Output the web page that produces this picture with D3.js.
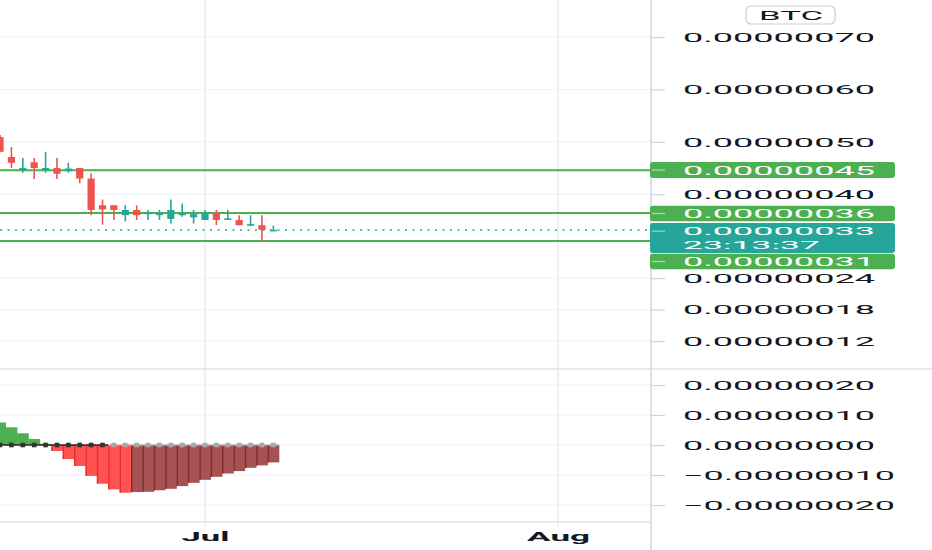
<!DOCTYPE html>
<html><head><meta charset="utf-8">
<script src="https://cdn.jsdelivr.net/npm/d3@7"></script>
<style>html,body{margin:0;padding:0;background:#fff;overflow:hidden}</style>
</head><body>
<svg id="c" width="932" height="550"></svg>
<script>
// ---- data (prices in units of 1e-8 BTC) ----
const dates = ["2023-06-13","2023-06-14","2023-06-15","2023-06-16","2023-06-17","2023-06-18","2023-06-19",
  "2023-06-20","2023-06-21","2023-06-22","2023-06-23","2023-06-24","2023-06-25","2023-06-26","2023-06-27",
  "2023-06-28","2023-06-29","2023-06-30","2023-07-01","2023-07-02","2023-07-03","2023-07-04","2023-07-05",
  "2023-07-06","2023-07-07"];
const open  = [50.9,47.1,44.6,46.1,44.6,45.0,44.4,45.0,43.0,37.9,37.9,36.0,37.0,36.2,36.0,35.3,36.0,35.6,35.1,36.4,35.1,35.1,34.0,34.1,32.95];
const high  = [51.3,49.0,46.9,46.9,48.1,46.9,46.0,45.0,44.0,39.0,37.9,37.9,37.9,37.0,37.0,39.0,38.2,37.0,37.0,37.0,37.0,36.0,36.0,36.0,34.0];
const low   = [48.0,45.0,44.1,42.9,44.1,42.9,44.1,42.1,36.0,34.2,35.1,34.8,35.1,35.1,35.1,34.4,35.7,34.4,35.1,34.1,35.1,34.1,33.9,30.9,32.95];
const close = [48.1,46.0,45.0,45.0,45.0,43.9,44.9,43.0,37.0,37.1,37.0,37.0,36.0,36.5,36.3,37.0,36.4,36.2,36.4,35.1,35.4,34.1,34.3,33.2,33.2];
const momentum = [7.5,5.9,3.9,2.0,0.4,-2.0,-4.7,-7.0,-10.3,-12.9,-14.8,-15.9,-15.7,-15.6,-15.1,-14.6,-13.7,-12.6,-11.6,-10.6,-9.5,-8.7,-7.6,-6.8,-5.8];
const squeezeOn = [1,1,1,1,1,1,1,1,1,1,0,0,0,0,0,0,0,0,0,0,0,0,0,0,0];
const levels = [44.6, 36.4, 31.1];
const priceTicks = [70,60,50,40,24,18,12];
const momTicks = [20,10,0,-10,-20];
const timeTicks = ["2023-07-01","2023-08-01"];
const countdown = "23:13:37";
const currency = "BTC";
const UNIT = 1e-8;

// ---- layout ----
const W = 932, H = 550, AX = 651, PANE_SEP = 369, TIME_Y = 522;
const svg = d3.select("#c");
const font = "Roboto, 'Liberation Sans', Arial, sans-serif";
const fmt = v => { const s = (v*UNIT).toFixed(8); return s.replace("-", "\u2212"); };
const parse = d3.utcParse("%Y-%m-%d");
const days = dates.map(parse);

const x = d3.scaleUtc().domain([parse("2023-07-01"), parse("2023-08-01")]).range([205, 558]);
const yP = d3.scaleLinear().domain([12,70]).range([341,37]);
const yM = d3.scaleLinear().domain([-20,20]).range([505,385]);
const step = x(parse("2023-07-02")) - x(parse("2023-07-01"));

const defs = svg.append("defs");
defs.append("clipPath").attr("id","clipMain").append("rect").attr("x",0).attr("y",0).attr("width",AX).attr("height",PANE_SEP);
defs.append("clipPath").attr("id","clipMom").append("rect").attr("x",0).attr("y",PANE_SEP).attr("width",AX).attr("height",TIME_Y-PANE_SEP);

const gridC = "#eef1f6";
// horizontal grid
svg.append("g").selectAll("line").data(priceTicks).join("line")
  .attr("x1",0).attr("x2",AX).attr("y1",d=>yP(d)).attr("y2",d=>yP(d)).attr("stroke",gridC).attr("stroke-width",1);
svg.append("g").selectAll("line").data(momTicks).join("line")
  .attr("x1",0).attr("x2",AX).attr("y1",d=>yM(d)).attr("y2",d=>yM(d)).attr("stroke",gridC).attr("stroke-width",1);
// vertical grid
svg.append("g").selectAll("line").data(timeTicks.map(parse)).join("line")
  .attr("x1",d=>x(d)).attr("x2",d=>x(d)).attr("y1",0).attr("y2",TIME_Y+4).attr("stroke","#e6e9f0").attr("stroke-width",1.5);

// ---- main pane ----
const gm = svg.append("g").attr("clip-path","url(#clipMain)");
gm.selectAll("line.lvl").data(levels).join("line").attr("class","lvl")
  .attr("x1",0).attr("x2",AX).attr("y1",d=>yP(d)).attr("y2",d=>yP(d))
  .attr("stroke","#4caf50").attr("stroke-width",2);
const last = close[close.length-1];
gm.append("line").attr("x1",0).attr("x2",AX).attr("y1",yP(last)).attr("y2",yP(last))
  .attr("stroke","#26a69a").attr("stroke-width",1.5).attr("stroke-dasharray","2,5.5");
const cdata = days.map((d,i)=>({d,o:open[i],h:high[i],l:low[i],c:close[i]}));
const col = d => d.c >= d.o ? "#26a69a" : "#ef5350";
gm.selectAll("line.wick").data(cdata).join("line").attr("class","wick")
  .attr("x1",d=>x(d.d)).attr("x2",d=>x(d.d)).attr("y1",d=>yP(d.h)).attr("y2",d=>yP(d.l))
  .attr("stroke",col).attr("stroke-width",1.6);
gm.selectAll("rect.body").data(cdata).join("rect").attr("class","body")
  .attr("x",d=>x(d.d)-3.6).attr("width",7.2)
  .attr("y",d=>yP(Math.max(d.o,d.c)))
  .attr("height",d=>Math.max(1.5, Math.abs(yP(d.o)-yP(d.c))))
  .attr("fill",col);

// ---- momentum pane ----
const gh = svg.append("g").attr("clip-path","url(#clipMom)");
const mdata = days.map((d,i)=>{
  const v = momentum[i], p = i>0 ? momentum[i-1] : v;
  let c, e;
  if (v >= 0) c = (i>0 && v > p) ? "#00e676" : "#4caf50";
  else c = (v < p) ? "#ff5252" : "#a65252";
  if (v >= 0) e = c; else e = (v < p) ? "#e52020" : "#7e1f1f";
  return {d, v, c, e, sq: squeezeOn[i]};
});
gh.selectAll("rect.bar").data(mdata).join("rect").attr("class","bar")
  .attr("x",d=>x(d.d)-step/2).attr("width",step+0.3)
  .attr("y",d=>Math.min(yM(0),yM(d.v))).attr("height",d=>Math.abs(yM(d.v)-yM(0)))
  .attr("fill",d=>d.c);
gh.selectAll("line.edge").data(mdata.filter(d=>d.v<0)).join("line").attr("class","edge")
  .attr("x1",d=>x(d.d)-step/2+0.7).attr("x2",d=>x(d.d)-step/2+0.7)
  .attr("y1",yM(0)).attr("y2",d=>yM(d.v))
  .attr("stroke",d=>d.e).attr("stroke-width",1.4).attr("opacity",0.8);
gh.selectAll("line.sq").data(mdata).join("line").attr("class","sq")
  .attr("x1",d=>x(d.d)-step/2).attr("x2",d=>x(d.d)+step/2).attr("y1",yM(0)).attr("y2",yM(0))
  .attr("stroke",d=>d.sq?"#2a2a2a":"#b0b0b0").attr("stroke-width",1.6);
gh.selectAll("rect.sqd").data(mdata).join("rect").attr("class","sqd")
  .attr("x",d=>x(d.d)-2.3).attr("y",yM(0)-2.3).attr("width",4.6).attr("height",4.6)
  .attr("fill",d=>d.sq?"#333333":"#a8a8a8");

// ---- borders ----
svg.append("line").attr("x1",0).attr("x2",W).attr("y1",PANE_SEP).attr("y2",PANE_SEP).attr("stroke","#e0e3eb").attr("stroke-width",1.5);
svg.append("line").attr("x1",0).attr("x2",AX).attr("y1",TIME_Y).attr("y2",TIME_Y).attr("stroke","#e0e3eb").attr("stroke-width",1.5);
svg.append("line").attr("x1",AX).attr("x2",AX).attr("y1",0).attr("y2",H).attr("stroke","#d9dce3").attr("stroke-width",1.8);

// ---- price axis ----
const styleAxis = g => {
  g.select(".domain").remove();
  g.selectAll(".tick line").attr("stroke","#d0d3da").attr("stroke-width",1.2);
  g.selectAll(".tick text").attr("fill","#131722").attr("font-family",font).attr("font-size",13.5)
    .attr("textLength",d=>fmt(d).startsWith("\u2212")?212:192).attr("lengthAdjust","spacingAndGlyphs");
};
svg.append("g").attr("transform",`translate(${AX},0)`)
  .call(d3.axisRight(yP).tickValues(priceTicks).tickFormat(fmt).tickSize(14).tickPadding(18))
  .call(styleAxis);
svg.append("g").attr("transform",`translate(${AX},0)`)
  .call(d3.axisRight(yM).tickValues(momTicks).tickFormat(fmt).tickSize(14).tickPadding(18))
  .call(styleAxis);

// ---- time axis ----
const ta = svg.append("g").attr("transform",`translate(0,${TIME_Y})`)
  .call(d3.axisBottom(x).tickValues(timeTicks.map(parse)).tickFormat(d3.utcFormat("%b")).tickSize(0).tickPadding(9));
ta.select(".domain").remove();
ta.selectAll(".tick text").attr("fill","#131722").attr("font-family",font).attr("font-size",13.5).attr("font-weight","bold")
  .attr("textLength",(d,i)=> i===0?48:63).attr("lengthAdjust","spacingAndGlyphs").attr("dy","0.71em");

// ---- price labels ----
const labs = [
  {cy:170, h:16, fill:"#4caf50", lines:[fmt(levels[0])]},
  {cy:213.5, h:15.5, fill:"#4caf50", lines:[fmt(levels[1])]},
  {cy:238, h:30, fill:"#26a69a", lines:[fmt(last), countdown]},
  {cy:261.5, h:15.5, fill:"#4caf50", lines:[fmt(levels[2])]}
];
const lg = svg.append("g");
labs.forEach(l=>{
  lg.append("rect").attr("x",AX-1).attr("y",l.cy-l.h/2).attr("width",895-AX+1).attr("height",l.h)
    .attr("rx",3).attr("fill",l.fill);
  const two = l.lines.length > 1;
  const ty = two ? l.cy-6.8 : l.cy;
  lg.append("line").attr("x1",AX+1).attr("x2",AX+14).attr("y1",ty).attr("y2",ty)
    .attr("stroke","rgba(255,255,255,0.55)").attr("stroke-width",1.2);
  l.lines.forEach((t,k)=>{
    lg.append("text").attr("x",683).attr("y",ty + k*13.6).attr("dy","0.35em")
      .attr("fill","#ffffff").attr("font-family",font).attr("font-size", two ? 11.5 : 13.5)
      .attr("textLength", k===0?192:137).attr("lengthAdjust","spacingAndGlyphs").text(t);
  });
});

// ---- currency badge ----
svg.append("rect").attr("x",746).attr("y",6).attr("width",89).attr("height",18).attr("rx",5)
  .attr("fill","#fff").attr("stroke","#c9ccd3").attr("stroke-width",1.2);
svg.append("text").attr("x",759).attr("y",15).attr("dy","0.36em").attr("fill","#131722")
  .attr("font-family",font).attr("font-size",13.5).attr("textLength",64).attr("lengthAdjust","spacingAndGlyphs").text(currency);
</script>
</body></html>
